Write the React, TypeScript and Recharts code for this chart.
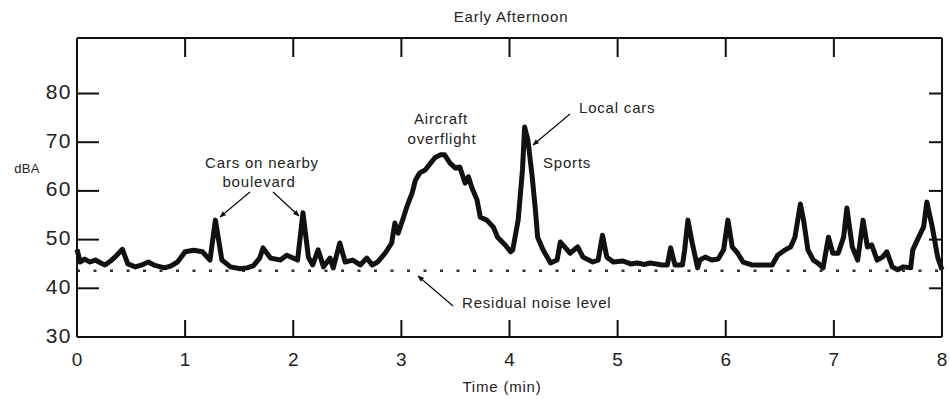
import { LineChart, Line, XAxis, YAxis, ReferenceLine } from 'recharts';

// time in minutes, sound level in dBA
const time = [
  0.0, 0.03, 0.07, 0.12, 0.17, 0.22, 0.26, 0.31, 0.35, 0.42, 0.47, 0.54, 0.6, 0.66, 0.72, 0.81, 0.87, 0.93,
  1.0, 1.08, 1.16, 1.23, 1.28, 1.34, 1.42, 1.51, 1.57, 1.63, 1.69, 1.72, 1.79, 1.88, 1.94,
  2.04, 2.09, 2.14, 2.18, 2.23, 2.28, 2.34, 2.37, 2.43, 2.48, 2.55, 2.62, 2.68, 2.73, 2.78, 2.85, 2.91, 2.94, 2.97,
  3.02, 3.05, 3.1, 3.13, 3.17, 3.22, 3.27, 3.31, 3.36, 3.4, 3.45, 3.5, 3.54, 3.59, 3.62, 3.65, 3.7, 3.73, 3.79, 3.85, 3.89, 3.96,
  4.01, 4.03, 4.08, 4.12, 4.14, 4.17, 4.21, 4.24, 4.26, 4.31, 4.38, 4.44, 4.47, 4.51, 4.56, 4.63, 4.68, 4.77, 4.82, 4.86, 4.9, 4.96,
  5.05, 5.12, 5.18, 5.25, 5.3, 5.36, 5.41, 5.46, 5.49, 5.53, 5.6, 5.62, 5.65, 5.69, 5.74, 5.76, 5.81, 5.87, 5.93, 5.98,
  6.02, 6.06, 6.11, 6.16, 6.24, 6.34, 6.43, 6.48, 6.55, 6.6, 6.64, 6.69, 6.72, 6.76, 6.81, 6.85, 6.9, 6.95, 6.99,
  7.04, 7.09, 7.12, 7.17, 7.22, 7.27, 7.31, 7.35, 7.4, 7.45, 7.49, 7.54, 7.59, 7.64, 7.71, 7.73, 7.78, 7.83, 7.86, 7.91, 7.96, 8.0,
];

const dba = [
  48.0, 45.4, 46.0, 45.4, 45.8, 45.2, 44.8, 45.6, 46.4, 48.0, 45.0, 44.4, 44.8, 45.4, 44.7, 44.2, 44.6, 45.4,
  47.5, 47.8, 47.5, 45.8, 54.0, 45.8, 44.4, 44.0, 44.2, 44.6, 46.2, 48.3, 46.2, 45.8, 46.8,
  45.8, 55.5, 46.4, 44.8, 47.9, 44.4, 46.2, 44.2, 49.3, 45.4, 45.8, 44.8, 46.2, 44.8, 45.4, 47.2, 49.3, 53.4, 51.3,
  54.6, 56.7, 59.6, 62.2, 63.7, 64.3, 65.7, 66.8, 67.4, 67.4, 65.7, 64.7, 64.9, 61.6, 62.9, 60.8, 58.1, 54.6, 54.0, 52.6, 50.5, 48.9,
  47.5, 47.9, 54.0, 64.3, 73.1, 70.5, 62.9, 56.0, 50.5, 47.9, 45.2, 45.8, 49.5, 48.5, 47.2, 48.5, 46.4, 45.4, 45.8, 50.9, 46.4, 45.4,
  45.6, 45.0, 45.2, 44.9, 45.2, 45.0, 44.8, 44.8, 48.3, 44.8, 44.8, 47.9, 54.0, 49.3, 44.2, 45.8, 46.4, 45.8, 46.0, 47.9,
  54.0, 48.5, 47.2, 45.4, 44.8, 44.8, 44.8, 46.8, 47.9, 48.5, 50.5, 57.3, 54.0, 47.9, 45.8, 45.2, 44.2, 50.5, 47.2,
  47.2, 50.5, 56.5, 48.5, 45.8, 54.0, 48.5, 48.9, 45.8, 46.4, 47.5, 44.4, 43.8, 44.4, 44.2, 47.9, 50.3, 52.6, 57.7, 52.6, 46.4, 43.8,
];

const xTicks = [0, 1, 2, 3, 4, 5, 6, 7, 8];
const innerXTicks = [1, 2, 3, 4, 5, 6, 7];
const yTicks = [30, 40, 50, 60, 70, 80];
const rightTicks = [40, 50, 60, 70, 80];
const residualLevel = 43.6;

const X_MIN = 0;
const X_MAX = 8;
const Y_MIN = 30;
const Y_MAX = 91.4;

const data = time.map((t, i) => ({ t, db: dba[i] }));

const INK = '#111';
const FONT = '"Liberation Sans", Arial, sans-serif';
const axisStroke = { stroke: INK, strokeWidth: 2 };

// plot box (matches the chart margins), used for the inward tick marks
const LEFT = 77;
const TOP = 38;
const RIGHT = 942;
const BOTTOM = 337;
const px = (t: number) => LEFT + ((t - X_MIN) / (X_MAX - X_MIN)) * (RIGHT - LEFT);
const py = (v: number) => BOTTOM - ((v - Y_MIN) / (Y_MAX - Y_MIN)) * (BOTTOM - TOP);

const BottomTick = (props: any) => {
  const { x, y, payload } = props;
  return (
    <text x={x} y={y + 24} textAnchor="middle" dominantBaseline="middle" fontSize={19} fontFamily={FONT} fill="#222">
      {payload.value}
    </text>
  );
};

const LeftTick = (props: any) => {
  const { x, y, payload } = props;
  return (
    <text x={x - 5} y={y} textAnchor="end" dominantBaseline="middle" fontSize={21} letterSpacing={1.5} fontFamily={FONT} fill="#222">
      {payload.value}
    </text>
  );
};

const txt = { fontFamily: FONT, fontSize: 15, letterSpacing: 0.8, fill: '#222' } as const;

export default function App() {
  return (
    <div style={{ position: 'absolute', left: 0, top: 0, width: 950, height: 399, background: '#fff' }}>
      <LineChart width={950} height={399} data={data} margin={{ top: TOP - 1, right: 950 - RIGHT - 1, bottom: 399 - BOTTOM - 1, left: LEFT - 1 }}>
        <XAxis
          dataKey="t" type="number" domain={[X_MIN, X_MAX]} ticks={xTicks} interval={0}
          height={1} tickSize={0} tickMargin={0} tickLine={false}
          axisLine={axisStroke} tick={BottomTick}
        />
        <XAxis
          xAxisId="top" orientation="top" dataKey="t" type="number" domain={[X_MIN, X_MAX]} ticks={xTicks}
          height={1} tickLine={false} axisLine={axisStroke} tick={false}
        />
        <YAxis
          type="number" domain={[Y_MIN, Y_MAX]} allowDataOverflow ticks={yTicks} interval={0}
          width={1} tickSize={0} tickMargin={0} tickLine={false}
          axisLine={axisStroke} tick={LeftTick}
        />
        <YAxis
          yAxisId="right" orientation="right" type="number" domain={[Y_MIN, Y_MAX]} allowDataOverflow
          width={1} tickLine={false} axisLine={axisStroke} tick={false}
        />
        <ReferenceLine y={residualLevel} stroke="#333" strokeWidth={2.5} strokeDasharray="3 13.5" />
        <Line
          dataKey="db" type="linear" stroke={INK} strokeWidth={5} strokeLinejoin="round"
          dot={false} isAnimationActive={false}
        />
      </LineChart>

      {/* inward tick marks, titles and annotations */}
      <svg width={950} height={399} style={{ position: 'absolute', left: 0, top: 0, pointerEvents: 'none' }}>
        <defs>
          <marker id="head" viewBox="0 0 10 10" refX="9" refY="5" markerWidth="5" markerHeight="5" orient="auto">
            <path d="M0,1 L10,5 L0,9 z" fill={INK} />
          </marker>
        </defs>
        {innerXTicks.map((t) => (
          <line key={`b${t}`} x1={px(t)} x2={px(t)} y1={BOTTOM} y2={BOTTOM - 17} {...axisStroke} />
        ))}
        {innerXTicks.map((t) => (
          <line key={`t${t}`} x1={px(t)} x2={px(t)} y1={TOP} y2={TOP + 19} {...axisStroke} />
        ))}
        {yTicks.map((v) => (
          <line key={`l${v}`} x1={LEFT} x2={LEFT + 22} y1={py(v)} y2={py(v)} {...axisStroke} />
        ))}
        {rightTicks.map((v) => (
          <line key={`r${v}`} x1={RIGHT - 13} x2={RIGHT} y1={py(v)} y2={py(v)} {...axisStroke} />
        ))}

        <text x={511} y={18} textAnchor="middle" dominantBaseline="middle" {...txt}>Early Afternoon</text>
        <text x={27} y={170} textAnchor="middle" dominantBaseline="middle" {...txt} fontSize={13} letterSpacing={0.3}>dBA</text>
        <text x={502} y={388} textAnchor="middle" dominantBaseline="middle" {...txt}>Time (min)</text>

        <text x={262} y={164} textAnchor="middle" dominantBaseline="middle" {...txt}>Cars on nearby</text>
        <text x={259} y={183} textAnchor="middle" dominantBaseline="middle" {...txt}>boulevard</text>
        <line x1={250} y1={192} x2={220} y2={217} stroke={INK} strokeWidth={1.3} markerEnd="url(#head)" />
        <line x1={273} y1={192} x2={299} y2={216} stroke={INK} strokeWidth={1.3} markerEnd="url(#head)" />

        <text x={441} y={120} textAnchor="middle" dominantBaseline="middle" {...txt}>Aircraft</text>
        <text x={442} y={140} textAnchor="middle" dominantBaseline="middle" {...txt}>overflight</text>

        <text x={579} y={109} dominantBaseline="middle" {...txt}>Local cars</text>
        <line x1={570} y1={114} x2={533} y2={145} stroke={INK} strokeWidth={1.3} markerEnd="url(#head)" />
        <text x={543} y={164} dominantBaseline="middle" {...txt}>Sports</text>

        <text x={462} y={304} dominantBaseline="middle" {...txt}>Residual noise level</text>
        <line x1={453} y1={306} x2={418} y2={276} stroke={INK} strokeWidth={1.3} markerEnd="url(#head)" />
      </svg>
    </div>
  );
}
